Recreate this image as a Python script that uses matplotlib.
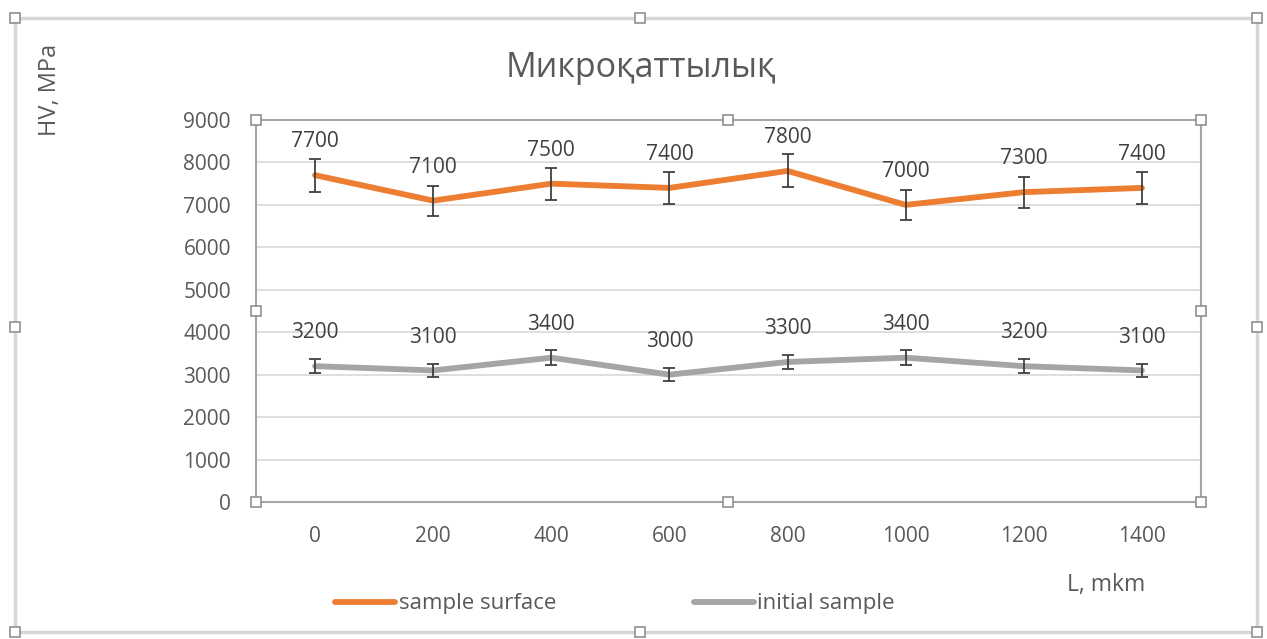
import matplotlib
matplotlib.use("Agg")
import matplotlib.pyplot as plt
from matplotlib.patches import Rectangle
from matplotlib.lines import Line2D

# ---- data ----
categories = ["0", "200", "400", "600", "800", "1000", "1200", "1400"]
surface = [7700, 7100, 7500, 7400, 7800, 7000, 7300, 7400]
initial = [3200, 3100, 3400, 3000, 3300, 3400, 3200, 3100]
err_frac = 0.05
title = "Микроқаттылық"
ylabel = "HV, MPa"
xlabel = "L, mkm"
series_names = ["sample surface", "initial sample"]

plt.rcParams['font.family'] = ['Open Sans', 'DejaVu Sans']

W, H = 1267, 639
fig = plt.figure(figsize=(W / 100, H / 100), dpi=100)
ax = fig.add_axes([256 / W, 1 - 502 / H, (1201 - 256) / W, (502 - 120) / H])

ORANGE = "#ED7D31"
GRAY = "#A5A5A5"
TXT = "#595959"

x = list(range(len(categories)))
for vals, col in [(surface, ORANGE), (initial, GRAY)]:
    ax.plot(x, vals, color=col, lw=4.2, solid_capstyle="round", zorder=3)
    ax.errorbar(x, vals, yerr=[v * err_frac for v in vals], fmt="none",
                ecolor="#404040", elinewidth=1.3, capsize=4.5, capthick=1.3, zorder=4)
    for xi, v in zip(x, vals):
        ax.annotate(f"{v}", (xi, v), xytext=(0, 24), textcoords="offset points",
                    ha="center", va="center", fontsize=15, color="#404040", zorder=5)

ax.set_xlim(-0.5, len(categories) - 0.5)
ax.set_ylim(0, 9000)
ax.set_yticks(range(0, 9001, 1000))
ax.set_xticks(x)
ax.set_xticklabels(categories)
ax.tick_params(axis="both", length=0, labelsize=15, labelcolor=TXT)
ax.tick_params(axis="x", pad=17)
ax.tick_params(axis="y", pad=18)
ax.grid(axis="y", color="#D9D9D9", lw=1.2)
ax.set_axisbelow(True)
for s in ax.spines.values():
    s.set_color("#A6A6A6")
    s.set_linewidth(1.5)

fig.text(641 / W, 1 - 68 / H, title, ha="center", va="center", fontsize=24.5, color=TXT)
fig.text(50 / W, 1 - 90 / H, ylabel, ha="center", va="center", rotation=90, fontsize=17, color=TXT)
fig.text(1106 / W, 1 - 585 / H, xlabel, ha="center", va="center", fontsize=16.5, color=TXT)

# legend
handles = [Line2D([], [], color=ORANGE, lw=4.2, solid_capstyle="round"),
           Line2D([], [], color=GRAY, lw=4.2, solid_capstyle="round")]
fig.legend(handles, series_names, loc="center", bbox_to_anchor=(615 / W, 1 - 604 / H),
           ncol=2, frameon=False, fontsize=16, labelcolor=TXT, handlelength=2.7,
           handletextpad=0.15, columnspacing=6.2)

# chart frame and selection handles
fig.patches.append(Rectangle((15 / W, 1 - 632 / H), (1257 - 15) / W, (632 - 18) / H,
                             transform=fig.transFigure, fill=False, ec="#D6D6D6", lw=2.5))
def handle(px, py):
    s = 10
    fig.patches.append(Rectangle(((px - s / 2) / W, 1 - (py + s / 2) / H), s / W, s / H,
                                 transform=fig.transFigure, fc="white", ec="#909090",
                                 lw=1.2, zorder=10))
for px, py in [(15, 18), (640, 18), (1257, 18), (15, 327), (1257, 327),
               (15, 632), (640, 632), (1257, 632)]:
    handle(px, py)
for px, py in [(256, 120), (728, 120), (1201, 120), (256, 311), (1201, 311),
               (256, 502), (728, 502), (1201, 502)]:
    handle(px, py)

fig.savefig("out.png", dpi=100)
